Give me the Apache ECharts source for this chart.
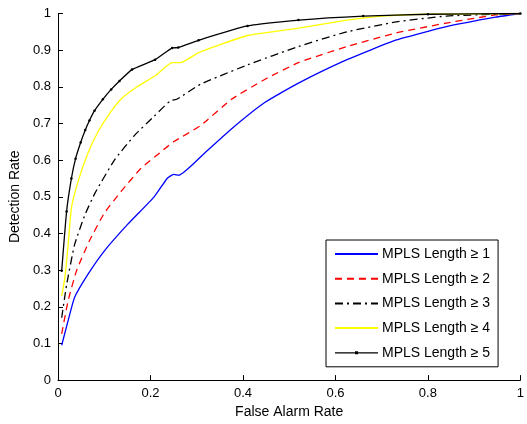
<!DOCTYPE html>
<html>
<head>
<meta charset="utf-8">
<script src="https://cdn.jsdelivr.net/npm/echarts@6/dist/echarts.min.js"></script>
<style>
  html, body { margin: 0; padding: 0; background: #fff; }
  #chart { width: 527px; height: 424px; }
</style>
</head>
<body>
<div id="chart"></div>
<script>
// curves (false alarm rate -> detection rate)
var len1X = [0.008, 0.022, 0.036, 0.065, 0.1, 0.15, 0.208, 0.236, 0.25, 0.261, 0.315, 0.375, 0.447, 0.52, 0.625, 0.732, 0.84, 0.946, 1];
var len1Y = [0.095, 0.163, 0.226, 0.289, 0.352, 0.424, 0.5, 0.55, 0.561, 0.559, 0.617, 0.685, 0.757, 0.81, 0.874, 0.928, 0.964, 0.99, 1];

var len2X = [0.008, 0.022, 0.04, 0.068, 0.1, 0.136, 0.179, 0.222, 0.25, 0.308, 0.375, 0.447, 0.52, 0.625, 0.732, 0.84, 0.946, 1];
var len2Y = [0.126, 0.217, 0.298, 0.38, 0.455, 0.514, 0.577, 0.622, 0.65, 0.694, 0.766, 0.82, 0.866, 0.91, 0.947, 0.974, 0.996, 1];

var len3X = [0.008, 0.0186, 0.036, 0.058, 0.08, 0.122, 0.165, 0.208, 0.243, 0.257, 0.308, 0.41, 0.52, 0.625, 0.732, 0.84, 1];
var len3Y = [0.17, 0.26, 0.37, 0.45, 0.51, 0.6, 0.667, 0.72, 0.762, 0.766, 0.807, 0.86, 0.91, 0.95, 0.977, 0.993, 1];

var len4X = [0.008, 0.015, 0.022, 0.029, 0.043, 0.065, 0.086, 0.108, 0.136, 0.171, 0.21, 0.247, 0.265, 0.304, 0.41, 0.52, 0.625, 0.70, 0.8, 1];
var len4Y = [0.23, 0.28, 0.37, 0.47, 0.54, 0.62, 0.676, 0.721, 0.766, 0.80, 0.83, 0.866, 0.866, 0.893, 0.94, 0.96, 0.982, 0.993, 0.998, 1];

var len5X = [0.008, 0.0186, 0.029, 0.038, 0.049, 0.059, 0.068, 0.079, 0.097, 0.115, 0.133, 0.16, 0.21, 0.247, 0.26, 0.304, 0.41, 0.52, 0.66, 0.8, 1];
var len5Y = [0.298, 0.46, 0.55, 0.604, 0.648, 0.682, 0.708, 0.735, 0.766, 0.793, 0.816, 0.847, 0.874, 0.906, 0.907, 0.927, 0.966, 0.982, 0.993, 0.998, 1];

var seriesNames = ['MPLS Length ≥ 1', 'MPLS Length ≥ 2', 'MPLS Length ≥ 3', 'MPLS Length ≥ 4', 'MPLS Length ≥ 5'];

function pairs(xs, ys) {
    return xs.map(function (x, i) { return [x, ys[i]]; });
}

var font = 'Liberation Sans, Arial, sans-serif';
var chart = echarts.init(document.getElementById('chart'));

function lineSeries(name, data, color, type, extra) {
    var s = {
        name: name,
        type: 'line',
        data: data,
        smooth: 0.15,
        showSymbol: false,
        symbol: 'none',
        lineStyle: { color: color, width: 1.3, type: type },
        itemStyle: { color: color },
        animation: false
    };
    return Object.assign(s, extra || {});
}

// legend entries: plain line for the first four, line with a dot for the last
var legendData = seriesNames.map(function (n, i) {
    if (i < 4) return { name: n, itemStyle: { opacity: 0 } };
    return { name: n, icon: 'path://M0,0L0,0z M0,6.35H43V7.65H0z M20,5.5H23V8.5H20z M43,14L43,14z' };
});

var option = {
    backgroundColor: '#fff',
    grid: { left: 58, right: 2, top: 13.5, bottom: 40.5 },
    legend: {
        orient: 'vertical',
        left: 326,
        top: 240,
        width: 196,
        padding: [7, 8, 7, 8],
        itemWidth: 43,
        itemHeight: 14,
        itemGap: 10.7,
        backgroundColor: '#fff',
        borderColor: '#000',
        borderWidth: 1,
        borderRadius: 0,
        textStyle: { fontFamily: font, fontSize: 14, color: '#000', padding: [0, 0, 0, -1] },
        data: legendData
    },
    xAxis: {
        type: 'value',
        min: 0, max: 1, interval: 0.2,
        name: 'False Alarm Rate',
        nameLocation: 'middle',
        nameGap: 18,
        nameTextStyle: { fontFamily: font, fontSize: 14, color: '#000' },
        axisLine: { lineStyle: { color: '#000', width: 1 } },
        axisTick: { inside: true, length: 5, lineStyle: { color: '#000' } },
        axisLabel: { fontFamily: font, fontSize: 13, color: '#000', margin: 7 },
        splitLine: { show: false }
    },
    yAxis: {
        type: 'value',
        min: 0, max: 1, interval: 0.1,
        name: 'Detection Rate',
        nameLocation: 'middle',
        nameGap: 29,
        nameTextStyle: { fontFamily: font, fontSize: 14, color: '#000' },
        axisLine: { show: true, lineStyle: { color: '#000', width: 1 } },
        axisTick: { show: true, inside: true, length: 5, lineStyle: { color: '#000' } },
        axisLabel: { fontFamily: font, fontSize: 13, color: '#000', margin: 7 },
        splitLine: { show: false }
    },
    series: [
        lineSeries(seriesNames[0], pairs(len1X, len1Y), '#0000ff', 'solid'),
        lineSeries(seriesNames[1], pairs(len2X, len2Y), '#ff0000', [7, 5]),
        lineSeries(seriesNames[2], pairs(len3X, len3Y), '#000000', [8, 4, 2, 4]),
        lineSeries(seriesNames[3], pairs(len4X, len4Y), '#ffff00', 'solid'),
        lineSeries(seriesNames[4], pairs(len5X, len5Y), '#000000', 'solid', {
            symbol: 'circle', symbolSize: 2.5, showSymbol: true
        })
    ]
};

chart.setOption(option);
</script>
</body>
</html>
